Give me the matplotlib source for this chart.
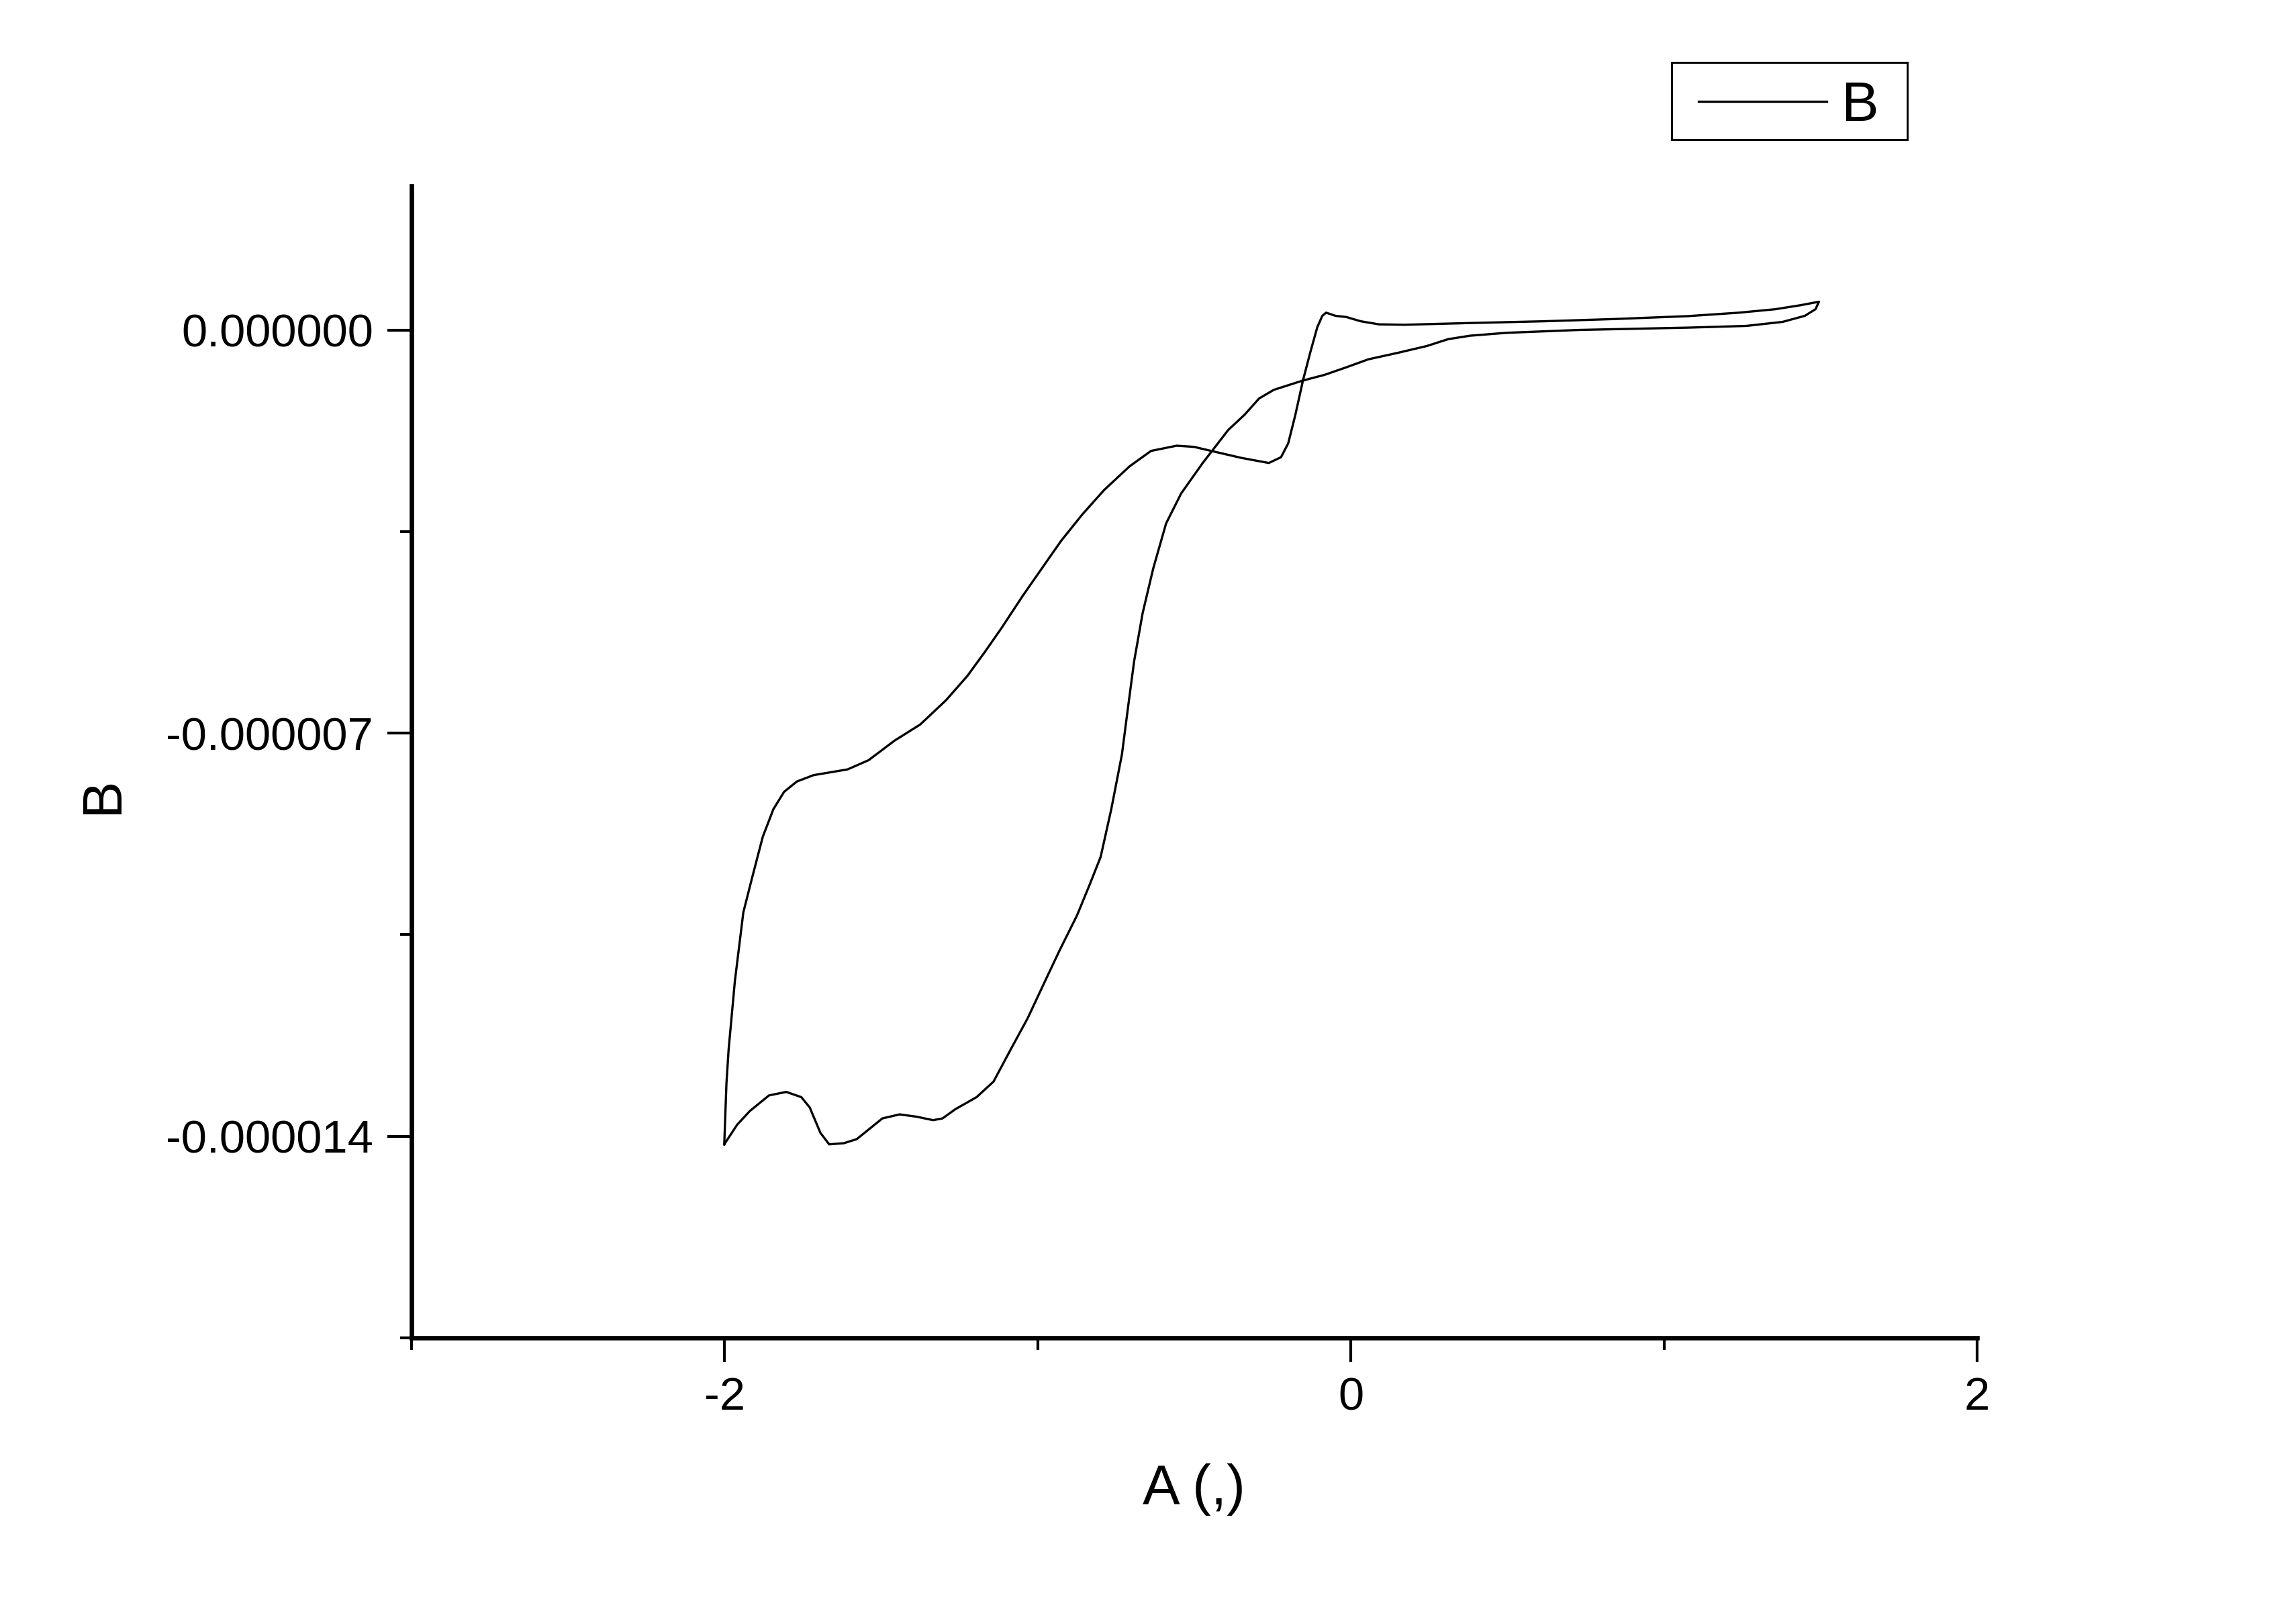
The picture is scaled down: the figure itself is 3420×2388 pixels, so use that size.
import numpy as np
import matplotlib
matplotlib.use('Agg')
import matplotlib.pyplot as plt
from matplotlib.patches import Rectangle
from matplotlib.ticker import FormatStrFormatter, MultipleLocator

plt.rcParams['font.family'] = ['Liberation Sans', 'DejaVu Sans']

# potential (A) and current (B, in units of 1e-6)
# bottom branch from -2 going right, then up to the +1.5 turn
x_fwd = [-2.001, -1.960, -1.919, -1.858, -1.803, -1.755, -1.728, -1.694, -1.666,
         -1.619, -1.578, -1.496, -1.441, -1.387, -1.334, -1.304, -1.263, -1.195,
         -1.141, -1.086, -1.032, -0.976, -0.929, -0.874, -0.834, -0.799, -0.765,
         -0.731, -0.711, -0.692, -0.665, -0.631, -0.590, -0.542, -0.473, -0.392,
         -0.339, -0.293, -0.246, -0.154, -0.084, -0.015, 0.056, 0.148, 0.242,
         0.311, 0.381, 0.497, 0.729, 1.077, 1.263, 1.379, 1.450, 1.484, 1.495]
y_fwd = [-14.14, -13.80, -13.56, -13.29, -13.23, -13.32, -13.50, -13.94, -14.14,
         -14.12, -14.05, -13.69, -13.62, -13.66, -13.72, -13.69, -13.53, -13.32,
         -13.05, -12.49, -11.95, -11.30, -10.76, -10.16, -9.63, -9.15, -8.32,
         -7.37, -6.53, -5.75, -4.92, -4.14, -3.36, -2.84, -2.31, -1.74,
         -1.47, -1.19, -1.04, -0.88, -0.78, -0.65, -0.51, -0.40, -0.28,
         -0.16, -0.10, -0.05, 0.00, 0.04, 0.07, 0.14, 0.245, 0.36, 0.49]

# return branch from +1.5 back to -2
x_rev = [1.437, 1.356, 1.240, 1.077, 0.846, 0.613, 0.381, 0.171, 0.090, 0.032,
         -0.015, -0.049, -0.079, -0.091, -0.107, -0.131, -0.153, -0.177, -0.200,
         -0.223, -0.262, -0.351, -0.446, -0.501, -0.556, -0.638, -0.707, -0.788,
         -0.857, -0.925, -0.979, -1.047, -1.116, -1.170, -1.225, -1.293, -1.375,
         -1.457, -1.540, -1.607, -1.716, -1.769, -1.810, -1.844, -1.878, -1.912,
         -1.940, -1.967, -1.987, -1.994, -2.001]
y_rev = [0.43, 0.36, 0.30, 0.24, 0.19, 0.15, 0.12, 0.09, 0.097, 0.15,
         0.225, 0.245, 0.30, 0.245, 0.05, -0.42, -0.88, -1.47, -1.97,
         -2.21, -2.31, -2.22, -2.10, -2.03, -2.01, -2.10, -2.37, -2.78,
         -3.20, -3.66, -4.08, -4.61, -5.18, -5.60, -6.01, -6.43, -6.85,
         -7.13, -7.47, -7.63, -7.73, -7.84, -8.02, -8.32, -8.80, -9.51,
         -10.11, -11.30, -12.49, -13.08, -14.14]

x = np.array(x_fwd + x_rev)
y = np.array(y_fwd + y_rev) * 1e-6

fig = plt.figure(figsize=(11.4, 7.96), dpi=300)
ax = fig.add_axes([0.1792, 0.1654, 0.6819, 0.7186])

line, = ax.plot(x, y, color='black', lw=0.8, label='B')

ax.set_xlim(-3, 2)
ax.set_ylim(-1.75e-5, 2.5e-6)

ax.spines['top'].set_visible(False)
ax.spines['right'].set_visible(False)
ax.spines['left'].set_linewidth(1.6)
ax.spines['bottom'].set_linewidth(1.6)

ax.xaxis.set_major_locator(MultipleLocator(2))
ax.xaxis.set_minor_locator(MultipleLocator(1))
ax.yaxis.set_major_locator(MultipleLocator(7e-6))
ax.yaxis.set_minor_locator(MultipleLocator(3.5e-6))
ax.yaxis.set_major_formatter(FormatStrFormatter('%.6f'))
ax.xaxis.set_major_formatter(FormatStrFormatter('%d'))

ax.tick_params(which='major', direction='out', length=8.7, width=1.0,
               labelsize=16.5, pad=5)
ax.tick_params(which='minor', direction='out', length=4.2, width=1.0)

ax.set_xlabel('A (,)', fontsize=20, va='center')
ax.set_ylabel('B', fontsize=20, va='center')
ax.xaxis.set_label_coords(0.5, -0.1317)
ax.yaxis.set_label_coords(-0.197, 0.471)

# legend entry without its own frame, box drawn separately (Origin style)
leg = fig.legend(handles=[line], loc='center left',
                 bbox_to_anchor=(2530 / 3420, 1 - 158 / 2388), fontsize=20,
                 frameon=False, borderpad=0, handlelength=2.29,
                 handletextpad=0.25, borderaxespad=0)
box = Rectangle((2490 / 3420, 1 - 208 / 2388), 351 / 3420, 115 / 2388,
                transform=fig.transFigure, fill=False, edgecolor='black',
                linewidth=0.7)
fig.add_artist(box)

fig.savefig('out.png', dpi=300)
